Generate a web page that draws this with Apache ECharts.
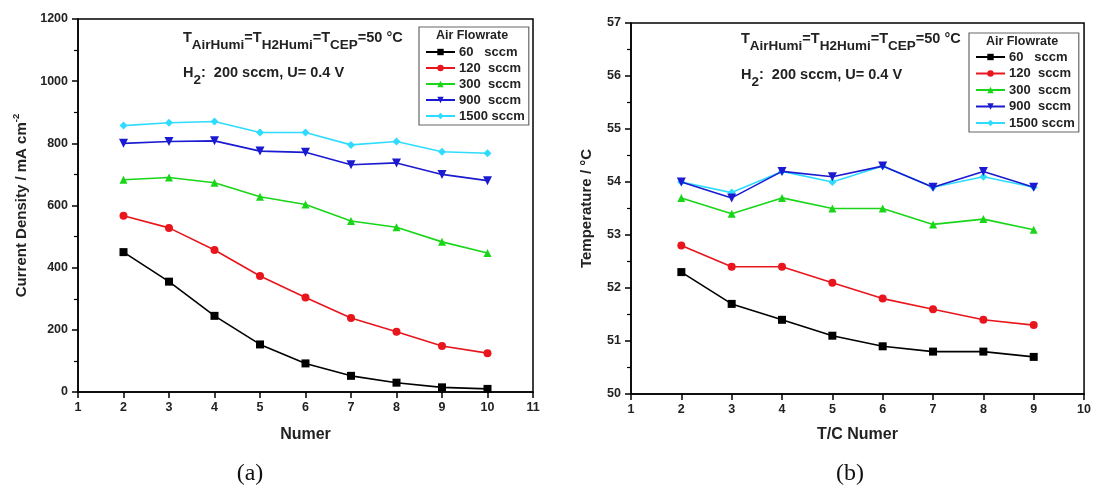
<!DOCTYPE html>
<html>
<head>
<meta charset="utf-8">
<script src="https://cdn.jsdelivr.net/npm/echarts@6/dist/echarts.min.js"></script>
<style>
  html, body { margin: 0; padding: 0; background: #fff; }
  #chart { width: 1094px; height: 498px; }
</style>
</head>
<body>
<div id="chart"></div>
<script>
// Data
// ------------------------------

var seriesNames = ["60   sccm", "120  sccm", "300  sccm", "900  sccm", "1500 sccm"];
var seriesColors = ["#000000", "#e8161c", "#19d619", "#1a1ad0", "#2fdcff"];
var seriesSymbols = ["rect", "circle", "triangle", "path://M0,0 L10,0 L5,9 Z", "diamond"];

// (a) current density vs position number
var numberA = [2, 3, 4, 5, 6, 7, 8, 9, 10];
var current60 = [450, 355, 245, 153, 92, 52, 30, 15, 10];
var current120 = [567, 528, 457, 373, 304, 238, 194, 148, 125];
var current300 = [683, 690, 673, 628, 603, 550, 530, 483, 447];
var current900 = [800, 806, 808, 775, 771, 731, 737, 700, 680];
var current1500 = [857, 866, 870, 835, 835, 795, 806, 773, 768];

// (b) temperature vs T/C number
var numberB = [2, 3, 4, 5, 6, 7, 8, 9];
var temp60 = [52.3, 51.7, 51.4, 51.1, 50.9, 50.8, 50.8, 50.7];
var temp120 = [52.8, 52.4, 52.4, 52.1, 51.8, 51.6, 51.4, 51.3];
var temp300 = [53.7, 53.4, 53.7, 53.5, 53.5, 53.2, 53.3, 53.1];
var temp900 = [54.0, 53.7, 54.2, 54.1, 54.3, 53.9, 54.2, 53.9];
var temp1500 = [54.0, 53.8, 54.2, 54.0, 54.3, 53.9, 54.1, 53.9];

var currentSets = [current60, current120, current300, current900, current1500];
var tempSets = [temp60, temp120, temp300, temp900, temp1500];

// Helpers
// ------------------------------

var FONT = "Arial, 'Liberation Sans', sans-serif";

function pairs(xs, ys) {
  return xs.map(function (x, i) { return [x, ys[i]]; });
}

function makeSeries(sets, xs, idx) {
  return sets.map(function (ys, i) {
    return {
      name: seriesNames[i],
      type: "line",
      xAxisIndex: idx,
      yAxisIndex: idx,
      data: pairs(xs, ys),
      symbol: seriesSymbols[i],
      symbolSize: i === 3 ? 9 : 8,
      color: seriesColors[i],
      lineStyle: { width: 1.6, color: seriesColors[i] },
      itemStyle: { color: seriesColors[i] },
      animation: false,
      z: 10 - i
    };
  });
}

function xAxisCfg(idx, max, name, gap) {
  return {
    type: "value",
    gridIndex: idx,
    min: 1,
    max: max,
    interval: 1,
    name: name,
    nameLocation: "middle",
    nameGap: gap,
    nameTextStyle: { fontFamily: FONT, fontWeight: "bold", fontSize: 16, color: "#222" },
    axisLine: { lineStyle: { color: "#000", width: 1.5 } },
    axisTick: { length: 6, lineStyle: { color: "#000", width: 1.5 } },
    axisLabel: { fontFamily: FONT, fontWeight: "bold", fontSize: 12.5, color: "#222", margin: 9 },
    splitLine: { show: false }
  };
}

function yAxisCfg(idx, min, max, step, name, gap) {
  return {
    type: "value",
    gridIndex: idx,
    min: min,
    max: max,
    interval: step,
    name: name,
    nameLocation: "middle",
    nameGap: gap,
    nameRotate: 90,
    nameTextStyle: {
      fontFamily: FONT, fontWeight: "bold", fontSize: 15, color: "#222",
      rich: {
        n: { fontFamily: FONT, fontWeight: "bold", fontSize: 15, color: "#222" },
        sup: { fontFamily: FONT, fontWeight: "bold", fontSize: 9.5, color: "#222", padding: [0, 0, 11, 0] }
      }
    },
    axisLine: { show: true, lineStyle: { color: "#000", width: 1.5 } },
    axisTick: { show: true, length: 6, lineStyle: { color: "#000", width: 1.5 } },
    minorTick: { show: true, splitNumber: 2, length: 4, lineStyle: { color: "#000", width: 1.2 } },
    axisLabel: {
      fontFamily: FONT, fontWeight: "bold", fontSize: 12.5, color: "#222", margin: 10,
      formatter: function (v) { return String(v); }
    },
    splitLine: { show: false }
  };
}

function legendCfg(left, top, gap, padTop) {
  return {
    data: seriesNames,
    orient: "vertical",
    left: left,
    top: top,
    padding: [padTop, 4, 2, 6],
    itemGap: gap,
    itemWidth: 29,
    itemHeight: 8,
    borderColor: "#666",
    borderWidth: 1.2,
    selectedMode: false,
    textStyle: { fontFamily: FONT, fontWeight: "bold", fontSize: 13, color: "#222", lineHeight: 14, padding: [0, 0, 0, -1] }
  };
}

var noteRich = {
  n: { fontFamily: FONT, fontWeight: "bold", fontSize: 14.5, fill: "#222" },
  s: { fontFamily: FONT, fontWeight: "bold", fontSize: 13.5, fill: "#222", padding: [15, 0, 0, 0] }
};

function notes(x, y, gap) {
  return [
    {
      type: "text", left: x, top: y, z: 100,
      style: {
        text: "{n|T}{s|AirHumi}{n|=T}{s|H2Humi}{n|=T}{s|CEP}{n|=50 °C}",
        rich: noteRich
      }
    },
    {
      type: "text", left: x, top: y + gap, z: 100,
      style: { text: "{n|H}{s|2}{n|:  200 sccm, U= 0.4 V}", rich: noteRich }
    }
  ];
}

function legendTitle(cx, cy) {
  return {
    type: "text", x: cx, y: cy, z: 100,
    style: {
      text: "Air Flowrate", font: "bold 12.5px " + FONT, fill: "#222",
      textAlign: "center", textVerticalAlign: "middle"
    }
  };
}

function caption(text, cx) {
  return {
    type: "text", x: cx, y: 474, z: 100,
    style: {
      text: text, font: "24px 'Liberation Serif', 'Times New Roman', serif", fill: "#111",
      textAlign: "center", textVerticalAlign: "middle"
    }
  };
}

// Chart
// ------------------------------

var chartElement = document.getElementById("chart");
var chart = echarts.init(chartElement, null, { renderer: "canvas" });

chart.setOption({
  animation: false,
  backgroundColor: "#fff",
  grid: [
    { left: 78, right: 561, top: 19, bottom: 106, show: true, borderColor: "#000", borderWidth: 1.5 },
    { left: 631, right: 9, top: 23, bottom: 104, show: true, borderColor: "#000", borderWidth: 1.5 }
  ],
  xAxis: [
    xAxisCfg(0, 11, "Numer", 35),
    xAxisCfg(1, 10, "T/C Numer", 33)
  ],
  yAxis: [
    yAxisCfg(0, 0, 1200, 200, "{n|Current Density / mA cm}{sup|-2}", 46),
    yAxisCfg(1, 50, 57, 1, "Temperature / °C", 37)
  ],
  legend: [legendCfg(419, 27, 2, 18), legendCfg(969, 33, 2.5, 17)],
  graphic: []
    .concat(notes(183, 30, 35))
    .concat(notes(741, 31, 36))
    .concat([legendTitle(472, 36), legendTitle(1022, 42), caption("(a)", 250), caption("(b)", 850)]),
  series: makeSeries(currentSets, numberA, 0).concat(makeSeries(tempSets, numberB, 1))
});

window.addEventListener("resize", function () {
  chart.resize();
});
</script>
</body>
</html>
